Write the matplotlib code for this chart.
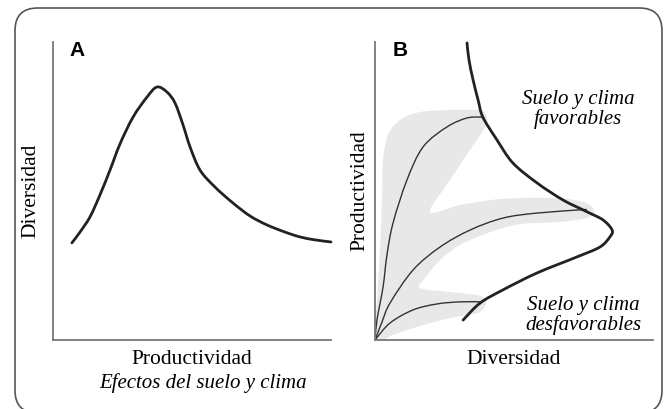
import numpy as np
import matplotlib.pyplot as plt
from matplotlib.patches import FancyBboxPatch, PathPatch
from matplotlib.path import Path

# panel A: diversity vs productivity (hump curve)
prod_a = [0.68, 0.97, 1.33, 1.69, 2.05, 2.41, 2.88, 3.38, 3.74, 4.10,
          4.39, 4.68, 4.93, 5.29, 5.83, 6.47, 7.09, 7.70, 8.35, 8.88, 9.42, 10.0]
div_a = [3.26, 3.62, 4.13, 4.87, 5.70, 6.58, 7.48, 8.15, 8.49, 8.32,
         7.95, 7.21, 6.48, 5.70, 5.13, 4.60, 4.16, 3.86, 3.62, 3.46, 3.36, 3.29]

# panel B: thick envelope curve
env_x = [3.31, 3.38, 3.53, 3.71, 3.88, 4.39, 4.96, 5.83, 6.76, 7.63, 8.20,
         8.53, 8.45, 8.09, 7.27, 5.83, 4.60, 3.78, 3.17]
env_y = [9.97, 9.40, 8.72, 8.05, 7.48, 6.71, 5.94, 5.27, 4.70, 4.30, 4.03,
         3.69, 3.46, 3.12, 2.79, 2.25, 1.68, 1.24, 0.67]

# panel B: thin curves from origin
c1_x = [0.0, 0.07, 0.29, 0.43, 0.65, 1.15, 1.73, 2.59, 3.31, 3.85]
c1_y = [0.0, 0.67, 1.78, 2.85, 3.93, 5.37, 6.48, 7.15, 7.45, 7.48]
c2_x = [0.0, 0.25, 0.54, 1.37, 2.34, 3.42, 4.60, 5.83, 7.60]
c2_y = [0.0, 0.60, 1.24, 2.35, 3.12, 3.69, 4.09, 4.26, 4.38]
c3_x = [0.0, 0.54, 1.37, 2.23, 3.06, 3.85]
c3_y = [0.0, 0.57, 1.01, 1.21, 1.28, 1.28]

# gray band outline
band_x = [0, 0.07, 0.18, 0.25, 0.29, 0.47, 0.90, 1.62, 2.70, 3.60, 3.96, 3.99, 3.42,
          2.70, 1.98, 3.06, 4.50, 5.94, 7.19, 7.81, 7.73, 6.65, 5.22, 4.14, 3.06,
          2.34, 1.80, 1.62, 2.70, 3.78, 3.99, 3.71, 2.70, 1.62, 0.72]
band_y = [0, 1.34, 3.02, 4.70, 6.04, 6.88, 7.38, 7.65, 7.72, 7.72, 7.62, 7.21, 6.38,
          5.37, 4.30, 4.53, 4.73, 4.77, 4.70, 4.46, 4.13, 3.96, 3.89, 3.62, 3.19,
          2.68, 2.08, 1.74, 1.61, 1.48, 1.24, 0.91, 0.74, 0.47, 0.20]

W, H = 666, 409


def smooth_path(xs, ys, closed=False):
    # catmull-rom through the points, drawn as cubic bezier segments
    p = np.column_stack([xs, ys]).astype(float)
    n = len(p)
    if closed:
        ext = np.vstack([p[-1], p, p[0], p[1]])
    else:
        ext = np.vstack([p[0], p, p[-1]])
    verts = [p[0]]
    codes = [Path.MOVETO]
    segs = n if closed else n - 1
    for i in range(segs):
        p0, p1, p2, p3 = ext[i], ext[i + 1], ext[i + 2], ext[i + 3]
        verts += [p1 + (p2 - p0) / 6, p2 - (p3 - p1) / 6, p2]
        codes += [Path.CURVE4] * 3
    if closed:
        verts.append(p[0])
        codes.append(Path.CLOSEPOLY)
    return Path(verts, codes)


def draw_curve(ax, xs, ys, **kw):
    ax.add_patch(PathPatch(smooth_path(xs, ys), facecolor='none',
                           capstyle='round', joinstyle='round', **kw))


fig = plt.figure(figsize=(W / 100, H / 100), dpi=100)
fig.patch.set_facecolor('white')

# rounded frame (bottom runs off the picture)
frame = FancyBboxPatch((15 / W, 1 - 413 / H), 647 / W, 405 / H,
                       boxstyle="round,pad=0,rounding_size=0.034",
                       mutation_aspect=W / H, transform=fig.transFigure,
                       facecolor='none', edgecolor='#555555', lw=1.2)
fig.patches.append(frame)

serif = 'Liberation Serif'


def make_axes(left_px):
    ax = fig.add_axes([left_px / W, 1 - 340 / H, 278 / W, 298 / H])
    ax.set_xlim(0, 10)
    ax.set_ylim(0, 10)
    for s in ['top', 'right']:
        ax.spines[s].set_visible(False)
    for s in ['left', 'bottom']:
        ax.spines[s].set_color('#777777')
        ax.spines[s].set_linewidth(1.3)
    ax.set_xticks([])
    ax.set_yticks([])
    ax.patch.set_alpha(0)
    return ax


axA = make_axes(53)
draw_curve(axA, prod_a, div_a, edgecolor='#222222', lw=2.0, clip_on=False)
axA.text(0.58, 9.7, 'A', fontsize=15, fontweight='bold', family='Liberation Sans',
         ha='left', va='center')
axA.set_xlabel('Productividad', family=serif, fontsize=15.5, labelpad=7)
axA.set_ylabel('Diversidad', family=serif, fontsize=15.5, labelpad=9)
fig.text(203 / W, 1 - 383 / H, 'Efectos del suelo y clima', family=serif,
         style='italic', fontsize=15, ha='center', va='center')

axB = make_axes(375)
axB.add_patch(PathPatch(smooth_path(band_x, band_y, closed=True), facecolor='#e8e8e8',
                        edgecolor='none', zorder=1))
for cx, cy in [(c1_x, c1_y), (c2_x, c2_y), (c3_x, c3_y)]:
    draw_curve(axB, cx, cy, edgecolor='#333333', lw=1.0, zorder=2)
draw_curve(axB, env_x, env_y, edgecolor='#222222', lw=2.0, zorder=3, clip_on=False)
axB.text(0.65, 9.7, 'B', fontsize=15, fontweight='bold', family='Liberation Sans',
         ha='left', va='center')
axB.set_xlabel('Diversidad', family=serif, fontsize=15.5, labelpad=7)
axB.set_ylabel('Productividad', family=serif, fontsize=15.5, labelpad=4)
axB.text(7.30, 7.72, 'Suelo y clima\nfavorables', family=serif, style='italic',
         fontsize=15, ha='center', va='center', linespacing=1.0)
axB.text(7.50, 0.81, 'Suelo y clima\ndesfavorables', family=serif, style='italic',
         fontsize=15, ha='center', va='center', linespacing=1.0)

fig.savefig('out.png', dpi=100)
